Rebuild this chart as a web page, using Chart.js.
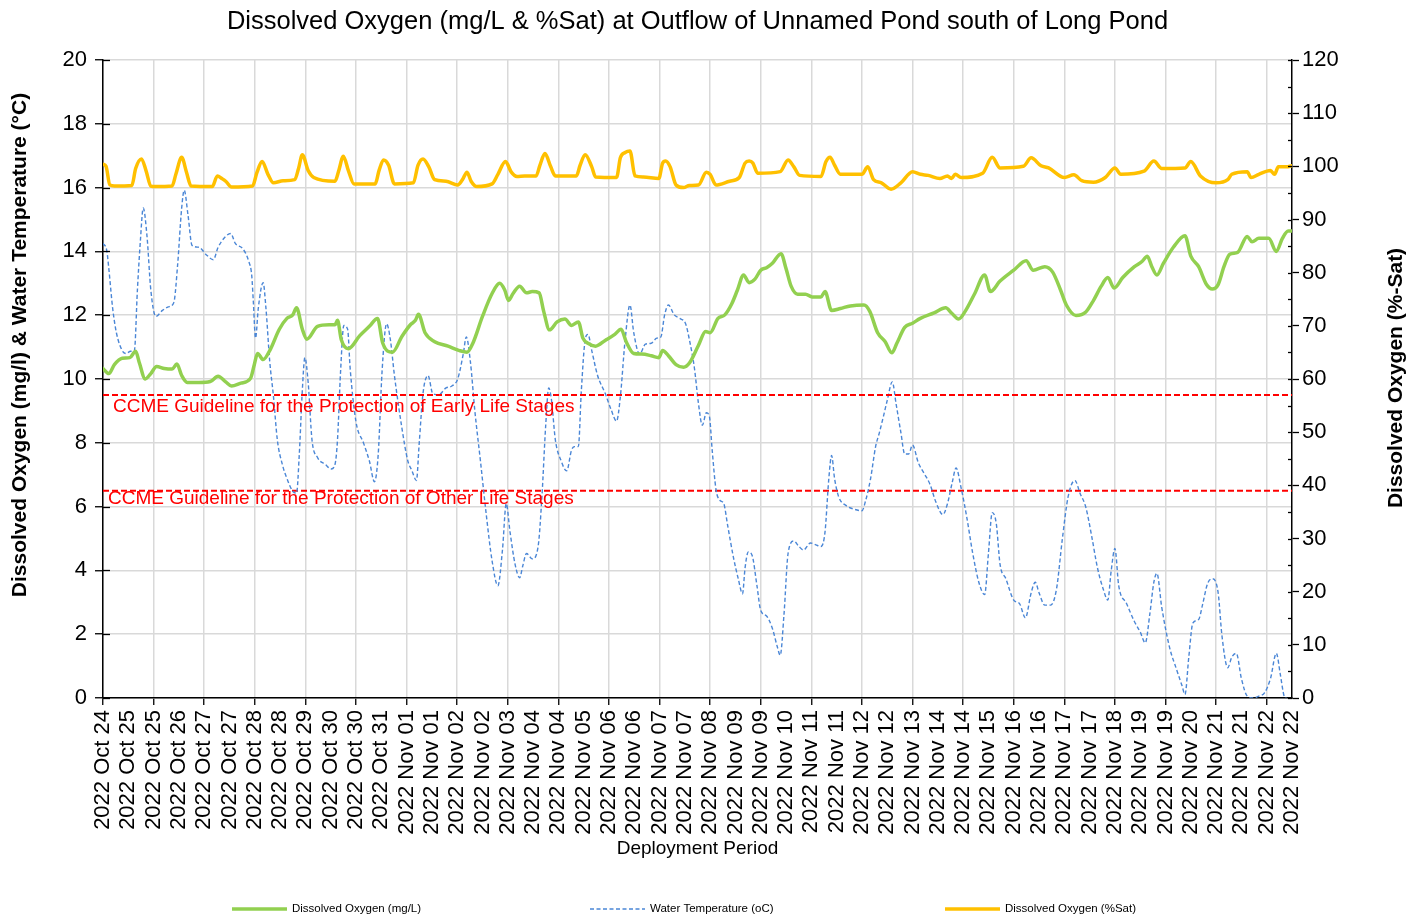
<!DOCTYPE html>
<html>
<head>
<meta charset="utf-8">
<script src="https://cdn.jsdelivr.net/npm/chart.js@4/dist/chart.umd.min.js"></script>
<style>
html,body{margin:0;padding:0;background:#fff;}
#c{display:block;}
</style>
</head>
<body>
<canvas id="c" width="1418" height="917" style="width:1418px;height:917px"></canvas>
<script>
// ---------- text ----------
const titleText = 'Dissolved Oxygen (mg/L & %Sat) at Outflow of Unnamed Pond south of Long Pond';
const xTitle = 'Deployment Period';
const yTitle = 'Dissolved Oxygen (mg/l) & Water Temperature (°C)';
const y2Title = 'Dissolved Oxygen (%-Sat)';
const guideLabels = ['CCME Guideline for the Protection of Early Life Stages', 'CCME Guideline for the Protection of Other Life Stages'];

// ---------- category tick labels (axis positions 0..47) ----------
const xLabels = ['2022 Oct 24','2022 Oct 25','2022 Oct 25','2022 Oct 26','2022 Oct 27','2022 Oct 27','2022 Oct 28','2022 Oct 28',
 '2022 Oct 29','2022 Oct 30','2022 Oct 30','2022 Oct 31','2022 Nov 01','2022 Nov 01','2022 Nov 02','2022 Nov 02',
 '2022 Nov 03','2022 Nov 04','2022 Nov 04','2022 Nov 05','2022 Nov 06','2022 Nov 06','2022 Nov 07','2022 Nov 07',
 '2022 Nov 08','2022 Nov 09','2022 Nov 09','2022 Nov 10','2022 Nov 11','2022 Nov 11','2022 Nov 12','2022 Nov 12',
 '2022 Nov 13','2022 Nov 14','2022 Nov 14','2022 Nov 15','2022 Nov 16','2022 Nov 16','2022 Nov 17','2022 Nov 17',
 '2022 Nov 18','2022 Nov 19','2022 Nov 19','2022 Nov 20','2022 Nov 21','2022 Nov 21','2022 Nov 22','2022 Nov 22'];

// ---------- series: Dissolved Oxygen (mg/L) ----------
const doX = [0,0.23,0.45,0.76,1.06,1.29,1.44,1.67,1.89,2.12,2.42,2.73,2.92,3.11,3.33,3.79,4.24,4.55,4.85,5.08,
 5.45,5.83,5.98,6.11,6.33,6.59,6.97,7.27,7.5,7.65,7.88,8.06,8.48,8.94,9.17,9.27,9.42,9.70,10.15,10.53,
 10.85,11.06,11.44,11.82,12.15,12.35,12.47,12.73,13.11,13.64,14.09,14.39,14.62,15.0,15.38,15.68,15.88,16.03,16.21,16.47,
 16.74,16.97,17.24,17.42,17.65,17.95,18.26,18.52,18.79,18.97,19.17,19.47,19.85,20.23,20.48,20.68,20.98,21.29,21.67,21.97,
 22.12,22.35,22.65,22.95,23.18,23.54,23.82,24.0,24.31,24.58,24.85,25.08,25.32,25.54,25.77,26.0,26.23,26.46,26.8,27.0,
 27.2,27.46,27.77,28.03,28.38,28.54,28.8,29.15,29.54,30.08,30.31,30.62,30.92,31.18,31.38,31.69,32.0,32.31,32.85,33.31,
 33.54,33.82,34.08,34.46,34.85,35.08,35.46,36.0,36.49,36.77,37.23,37.54,37.85,38.08,38.46,38.85,39.15,39.46,39.72,39.97,
 40.31,40.77,41.08,41.28,41.46,41.66,41.92,42.31,42.77,43.0,43.31,43.62,43.85,44.08,44.31,44.54,44.85,45.23,45.42,45.69,
 46.08,46.38,46.62,46.85,47.0];
const doMg = [10.33,10.17,10.45,10.65,10.67,10.87,10.5,10.0,10.17,10.39,10.33,10.31,10.47,10.11,9.89,9.89,9.92,10.09,9.91,9.78,
 9.87,10.02,10.45,10.8,10.61,10.89,11.56,11.9,12.01,12.23,11.56,11.25,11.65,11.7,11.7,11.84,11.23,10.95,11.36,11.65,
 11.9,11.12,10.84,11.34,11.7,11.84,12.03,11.45,11.17,11.03,10.89,10.84,11.12,11.96,12.68,13.0,12.79,12.46,12.68,12.91,
 12.7,12.74,12.7,12.12,11.54,11.79,11.88,11.68,11.79,11.28,11.12,11.03,11.21,11.4,11.56,11.17,10.8,10.78,10.73,10.67,
 10.89,10.73,10.45,10.37,10.5,11.06,11.49,11.45,11.9,12.01,12.35,12.79,13.26,13.02,13.13,13.41,13.49,13.63,13.93,13.46,
 12.91,12.66,12.66,12.57,12.57,12.74,12.15,12.21,12.29,12.32,12.12,11.45,11.17,10.82,11.12,11.62,11.75,11.9,12.07,12.23,
 12.07,11.88,12.12,12.68,13.26,12.74,13.07,13.41,13.71,13.41,13.52,13.35,12.79,12.32,11.99,12.1,12.46,12.91,13.18,12.85,
 13.18,13.52,13.69,13.85,13.52,13.26,13.63,14.13,14.49,13.85,13.52,12.96,12.82,12.96,13.52,13.91,13.97,14.47,14.3,14.41,
 14.41,14.0,14.41,14.64,14.64];

// ---------- series: Water Temperature (oC) ----------
const tempX = [0,0.15,0.23,0.38,0.53,0.76,0.91,1.09,1.24,1.36,1.48,1.59,1.74,1.89,2.09,2.35,2.58,2.8,2.95,3.11,
 3.21,3.36,3.52,3.79,4.09,4.36,4.55,4.85,5.05,5.23,5.53,5.76,5.88,5.94,6.03,6.14,6.33,6.44,6.59,6.74,
 6.89,7.09,7.3,7.5,7.65,7.76,7.88,7.98,8.11,8.26,8.48,8.79,9.02,9.17,9.27,9.39,9.52,9.67,9.77,10.0,
 10.3,10.53,10.73,10.88,11.03,11.21,11.36,11.52,11.82,12.05,12.2,12.39,12.5,12.65,12.85,13.03,13.26,13.56,13.79,14.02,
 14.24,14.36,14.52,14.7,14.92,15.15,15.38,15.61,15.79,15.94,16.09,16.29,16.47,16.59,16.74,16.97,17.2,17.35,17.5,17.62,
 17.73,17.88,18.11,18.33,18.52,18.64,18.79,18.91,19.06,19.17,19.32,19.55,19.85,20.08,20.3,20.45,20.64,20.83,20.98,21.21,
 21.44,21.67,21.89,22.05,22.2,22.35,22.58,22.8,23.03,23.18,23.38,23.54,23.69,23.85,23.97,24.08,24.23,24.38,24.54,24.69,
 24.92,25.11,25.28,25.38,25.51,25.66,25.85,26.0,26.23,26.46,26.65,26.77,26.92,27.08,27.31,27.51,27.69,27.97,28.18,28.38,
 28.54,28.69,28.8,28.92,29.08,29.38,29.69,30.0,30.15,30.34,30.54,30.69,30.85,31.0,31.2,31.35,31.54,31.69,31.85,32.0,
 32.23,32.46,32.69,32.92,33.2,33.38,33.57,33.72,33.92,34.15,34.38,34.62,34.85,35.0,35.15,35.31,35.46,35.69,36.0,36.23,
 36.46,36.69,36.85,37.0,37.23,37.46,37.69,37.92,38.15,38.42,38.62,38.85,39.08,39.31,39.54,39.72,39.85,40.0,40.15,40.46,
 40.77,41.0,41.2,41.38,41.54,41.66,41.85,42.15,42.46,42.65,42.77,42.92,43.08,43.31,43.46,43.66,43.85,44.08,44.23,44.46,
 44.62,44.8,45.0,45.23,45.46,45.69,45.92,46.15,46.38,46.54,46.69,46.77];
const temp = [14.25,14.02,13.46,12.23,11.45,10.89,10.8,10.87,10.89,12.79,14.36,15.36,14.47,12.79,11.96,12.15,12.26,12.4,13.58,15.36,
 15.92,15.14,14.19,14.13,13.89,13.74,14.13,14.47,14.56,14.25,14.08,13.69,13.24,12.46,11.28,12.23,13.02,12.23,10.56,9.44,
 8.1,7.32,6.82,6.48,6.42,7.65,9.66,10.67,9.89,8.1,7.54,7.32,7.18,7.32,8.1,10.22,11.68,11.56,10.33,8.66,
 7.99,7.43,6.78,7.65,10.22,11.73,11.23,10.11,8.44,7.43,7.15,6.82,7.99,9.55,10.11,9.55,9.5,9.72,9.78,10.0,
 10.78,11.32,10.56,8.99,7.43,5.75,4.3,3.52,4.64,6.09,5.2,4.19,3.77,4.13,4.53,4.36,4.75,6.31,8.55,9.72,
 9.33,8.1,7.43,7.12,7.77,7.88,7.88,9.66,11.23,11.4,10.89,10.11,9.55,9.05,8.68,9.44,11.23,12.32,11.45,10.78,
 11.09,11.12,11.28,11.32,12.01,12.32,12.01,11.9,11.73,11.23,10.33,9.22,8.55,8.94,8.83,7.77,6.54,6.2,6.09,5.42,
 4.41,3.74,3.27,4.08,4.58,4.47,3.52,2.74,2.57,2.18,1.62,1.34,2.63,4.53,4.92,4.75,4.64,4.86,4.8,4.75,
 5.2,6.87,7.6,6.87,6.31,6.03,5.92,5.87,6.2,6.87,7.88,8.32,8.83,9.33,9.91,9.22,8.32,7.65,7.65,7.93,
 7.37,7.04,6.7,6.15,5.75,6.09,6.76,7.21,6.59,5.64,4.53,3.63,3.24,4.53,5.81,5.47,4.19,3.74,3.07,2.96,
 2.51,3.3,3.63,3.3,2.91,2.91,3.41,4.97,6.31,6.82,6.42,5.98,5.08,4.08,3.41,3.07,3.97,4.69,3.52,2.96,
 2.4,2.07,1.73,2.63,3.63,3.91,2.85,1.62,0.84,0.39,0.11,1.28,2.35,2.46,2.91,3.58,3.74,3.3,1.96,0.95,
 1.28,1.4,0.61,0.06,0.0,0.06,0.17,0.61,1.4,0.73,0.06,0.0];

// ---------- series: Dissolved Oxygen (%Sat) ----------
const satX = [0,0.12,0.27,0.45,1.14,1.29,1.52,1.70,1.89,2.05,2.73,2.88,3.11,3.30,3.48,4.32,4.52,4.70,4.85,5.08,
 5.91,6.09,6.29,6.52,6.74,7.12,7.58,7.73,7.88,8.11,8.33,9.17,9.32,9.50,9.70,9.92,10.76,10.91,11.09,11.29,
 11.52,12.27,12.45,12.65,12.88,13.11,13.56,14.02,14.21,14.39,14.55,14.77,15.38,15.61,15.91,16.14,16.36,16.67,17.12,17.27,
 17.47,17.70,17.88,18.71,18.86,19.06,19.32,19.47,20.30,20.45,20.64,20.83,21.03,21.36,21.97,22.12,22.24,22.42,22.65,22.95,
 23.18,23.54,23.85,24.0,24.23,24.77,25.15,25.38,25.54,25.69,25.88,26.77,27.08,27.31,27.54,28.38,28.58,28.74,28.92,29.15,
 30.0,30.23,30.46,30.77,31.15,31.54,32.0,32.31,32.62,33.08,33.38,33.54,33.69,33.92,34.77,35.15,35.46,36.38,36.69,37.08,
 37.38,38.0,38.38,38.69,39.15,39.62,40.0,40.23,41.15,41.54,41.85,42.77,43.0,43.38,44.0,44.46,44.62,45.23,45.38,45.69,
 46.15,46.31,46.46,46.77,47.0];
const sat = [100.4,100,96.5,96.3,96.4,99.6,101.4,99.2,96.3,96.2,96.3,98.5,101.7,98.9,96.3,96.2,98.2,97.7,97.2,96.1,
 96.3,98.9,100.9,98.5,96.9,97.3,97.5,99.6,102.2,99.2,97.9,97.2,99.2,101.9,99.2,96.7,96.7,99.2,101.2,100.2,
 96.7,96.9,100.2,101.4,99.9,97.5,97.2,96.5,97.5,98.9,97.2,96.2,96.7,98.5,100.9,98.9,98.1,98.2,98.2,100.2,
 102.4,99.9,98.2,98.2,100.2,102.2,99.9,98.0,97.9,101.6,102.6,102.9,98.2,98.0,97.7,100.6,101.0,99.9,96.5,96.0,
 96.4,96.5,98.9,98.5,96.5,97.2,97.9,100.6,101.0,100.6,98.7,99.0,101.2,99.9,98.3,98.1,100.9,101.7,100.2,98.5,
 98.5,99.9,97.5,96.9,95.7,96.9,99.0,98.5,98.3,97.7,98.2,97.7,98.5,97.9,98.7,101.7,99.7,100.0,101.6,100.1,
 99.7,97.9,98.4,97.3,97.0,97.9,99.7,98.5,99.1,101.0,99.6,99.7,100.9,98.2,96.9,97.5,98.5,99.0,97.9,98.5,
 99.2,98.5,99.9,99.9,100.1];

// ---------- guideline values (mg/L) ----------
const guideEarly = 9.5;
const guideOther = 6.5;
const axisStart = 0, axisEnd = 47;

// ---------- helpers ----------
const pts = (xs, ys) => xs.slice(0, Math.min(xs.length, ys.length)).map((x, i) => ({x: x, y: ys[i]}));
const F = "'Liberation Sans', Arial, sans-serif";
const GREEN = '#92D050', BLUE = '#4A86D6', YELLOW = '#FFC000', RED = '#FF0000', GRID = '#D9D9D9';

const textPlugin = {
  id: 'texts',
  afterDraw(chart) {
    const ctx = chart.ctx, a = chart.chartArea;
    const ys = chart.scales.y, y2 = chart.scales.y2;
    ctx.save();
    // inner halves of cross tick marks
    ctx.strokeStyle = '#000'; ctx.lineWidth = 1.3;
    for (let v = 0; v <= 20; v += 2) {
      const p = Math.round(ys.getPixelForValue(v)) + 0.5;
      ctx.beginPath(); ctx.moveTo(a.left, p); ctx.lineTo(a.left + 7, p); ctx.stroke();
    }
    for (let v = 0; v <= 120; v += 5) {
      const p = Math.round(y2.getPixelForValue(v)) + 0.5;
      ctx.beginPath(); ctx.moveTo(a.right, p); ctx.lineTo(a.right - 4, p); ctx.stroke();
    }
    // chart title
    ctx.fillStyle = '#000'; ctx.textAlign = 'center'; ctx.textBaseline = 'middle';
    ctx.font = '25.5px ' + F;
    ctx.fillText(titleText, (a.left + a.right) / 2, 22);
    // x title
    ctx.font = '19px ' + F;
    ctx.fillText(xTitle, (a.left + a.right) / 2, 849);
    // y titles
    ctx.font = 'bold 21px ' + F;
    ctx.save(); ctx.translate(20, 345); ctx.rotate(-Math.PI / 2); ctx.fillText(yTitle, 0, 0); ctx.restore();
    ctx.save(); ctx.translate(1396, 378); ctx.rotate(-Math.PI / 2); ctx.fillText(y2Title, 0, 0); ctx.restore();
    // guideline labels
    ctx.fillStyle = RED; ctx.textAlign = 'left'; ctx.font = '19px ' + F;
    ctx.fillText(guideLabels[0], a.left + 10, ys.getPixelForValue(guideEarly) + 12);
    ctx.fillText(guideLabels[1], a.left + 5, ys.getPixelForValue(guideOther) + 8);
    // legend
    const legendItems = [chart.data.datasets[0], chart.data.datasets[3], chart.data.datasets[1]];
    const lx = [232, 590, 945];
    const ly = 909;
    ctx.font = '11.5px ' + F; ctx.textBaseline = 'middle'; ctx.fillStyle = '#000';
    legendItems.forEach((ds, i) => {
      ctx.save();
      ctx.strokeStyle = ds.borderColor; ctx.lineWidth = ds.borderWidth;
      ctx.setLineDash(ds.borderDash || []);
      ctx.beginPath(); ctx.moveTo(lx[i], ly); ctx.lineTo(lx[i] + 55, ly); ctx.stroke();
      ctx.restore();
      ctx.fillStyle = '#000';
      ctx.fillText(ds.label, lx[i] + 60, ly);
    });
    ctx.restore();
  }
};

new Chart(document.getElementById('c'), {
  type: 'line',
  data: {
    datasets: [
      {label: 'Dissolved Oxygen (mg/L)', data: pts(doX, doMg), borderColor: GREEN, borderWidth: 3.5, yAxisID: 'y',
       pointRadius: 0, cubicInterpolationMode: 'monotone', borderJoinStyle: 'round', borderCapStyle: 'round'},
      {label: 'Dissolved Oxygen (%Sat)', data: pts(satX, sat), borderColor: YELLOW, borderWidth: 3.5, yAxisID: 'y2',
       pointRadius: 0, cubicInterpolationMode: 'monotone', borderJoinStyle: 'round', borderCapStyle: 'round'},
      {label: guideLabels[0], data: [{x: axisStart, y: guideEarly}, {x: axisEnd, y: guideEarly}], borderColor: RED,
       borderWidth: 2, borderDash: [6, 3], yAxisID: 'y', pointRadius: 0},
      {label: 'Water Temperature (oC)', data: pts(tempX, temp), borderColor: BLUE, borderWidth: 1.4, borderDash: [4, 2.5],
       yAxisID: 'y', pointRadius: 0, cubicInterpolationMode: 'monotone'},
      {label: guideLabels[1], data: [{x: axisStart, y: guideOther}, {x: axisEnd, y: guideOther}], borderColor: RED,
       borderWidth: 2, borderDash: [6, 3], yAxisID: 'y', pointRadius: 0}
    ]
  },
  options: {
    responsive: false,
    animation: false,
    devicePixelRatio: 1,
    layout: {padding: {top: 60, left: 0, right: 0, bottom: 0}},
    plugins: {legend: {display: false}, title: {display: false}, tooltip: {enabled: false}},
    elements: {line: {fill: false}},
    scales: {
      x: {
        type: 'linear', min: axisStart, max: axisEnd,
        afterFit(s) { s.height = 219; },
        ticks: {stepSize: 1, autoSkip: false, maxTicksLimit: 200, maxRotation: 90, minRotation: 90,
          font: {size: 22, family: F}, color: '#000', padding: 5,
          callback: (v) => xLabels[v]},
        grid: {color: (c) => (c.tick && c.tick.value % 2 === 0) ? GRID : 'rgba(0,0,0,0)', lineWidth: 1.5,
          tickLength: 7, tickColor: (c) => (c.tick && c.tick.value % 2 === 0) ? '#000' : 'rgba(0,0,0,0)', tickWidth: 1.3},
        border: {display: true, color: '#000', width: 1.5}
      },
      y: {
        position: 'left', min: 0, max: 20,
        afterFit(s) { s.width = 103; },
        ticks: {stepSize: 2, font: {size: 22, family: F}, color: '#000', padding: 8},
        grid: {color: GRID, lineWidth: 1.5, tickLength: 8, tickColor: '#000', tickWidth: 1.3},
        border: {display: true, color: '#000', width: 1.5}
      },
      y2: {
        position: 'right', min: 0, max: 120,
        afterFit(s) { s.width = 126; },
        ticks: {stepSize: 5, font: {size: 22, family: F}, color: '#000', padding: 3,
          callback: (v) => (v % 10 === 0 ? String(v) : '')},
        grid: {drawOnChartArea: false, tickLength: 7, tickColor: '#000', tickWidth: 1.3},
        border: {display: true, color: '#000', width: 1.5}
      }
    }
  },
  plugins: [textPlugin]
});
</script>
</body>
</html>
